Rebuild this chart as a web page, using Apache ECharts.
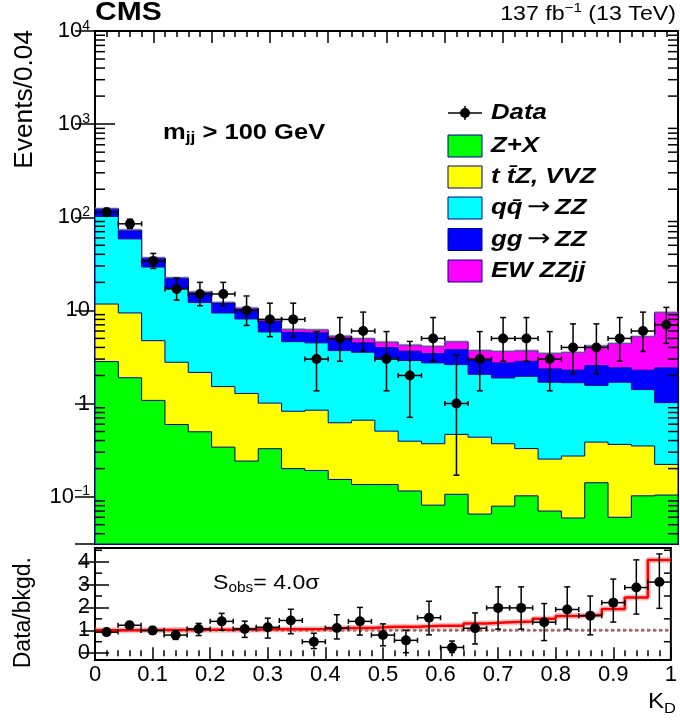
<!DOCTYPE html>
<html><head><meta charset="utf-8">
<script src="https://cdn.jsdelivr.net/npm/echarts@6/dist/echarts.min.js"></script>
<style>html,body{margin:0;padding:0;background:#fff}#c{width:680px;height:724px}</style>
</head><body><div id="c"></div>
<script>
// ---------------- data ----------------
const binCenters = [0.02,0.06,0.10,0.14,0.18,0.22,0.26,0.30,0.34,0.38,0.42,0.46,0.50,0.54,0.58,0.62,0.66,0.70,0.74,0.78,0.82,0.86,0.90,0.94,0.98];
const binWidth = 0.04;

const zx   = [2.82,1.89,1.08,0.595,0.497,0.340,0.241,0.327,0.200,0.191,0.153,0.135,0.135,0.115,0.081,0.106,0.065,0.079,0.102,0.070,0.059,0.141,0.060,0.102,0.104];
const ttz  = [8.88,7.49,3.65,2.18,1.66,1.18,1.04,0.683,0.626,0.657,0.468,0.527,0.370,0.279,0.289,0.360,0.370,0.291,0.226,0.183,0.214,0.244,0.304,0.248,0.118];
const qqzz = [90.3,49.2,24.5,14.6,10.0,7.86,6.81,4.86,3.79,3.63,3.08,2.89,2.57,2.50,2.36,2.15,1.62,1.51,1.63,1.44,1.40,1.18,1.33,1.06,0.80];
const ggzz = [21.0,14.0,7.1,4.7,3.3,2.5,2.2,1.7,1.19,1.25,1.15,0.92,0.91,0.75,0.71,1.17,0.84,0.85,0.88,0.66,0.61,0.99,0.72,0.87,1.39];
const ewzz = [0.4,0.4,0.35,0.3,0.3,0.3,0.3,0.35,0.45,0.45,0.45,0.5,0.58,0.6,0.67,0.82,0.81,0.9,0.85,1.1,1.25,1.6,2.0,2.95,7.1];

const dataCounts = [113,85,34,17,15,15,10,8,8,3,5,6,3,2,5,1,3,5,5,3,4,4,5,6,7];
const dataLow    = [102.4,75.8,28.2,12.9,11.2,11.2,6.89,5.23,5.23,1.37,2.84,3.62,1.37,0.71,2.84,0.17,1.37,2.84,2.84,1.37,2.09,2.09,2.84,3.62,4.42];
const dataHigh   = [124.7,95.3,40.9,22.2,20.0,20.0,14.27,11.95,11.95,5.92,8.38,9.58,5.92,4.64,8.38,3.30,5.92,8.38,8.38,5.92,7.16,7.16,8.38,9.58,10.77];

const ratioData = [0.92,1.22,0.99,0.79,1.06,1.39,1.06,1.13,1.43,0.50,1.10,1.39,0.79,0.56,1.55,0.25,1.09,1.98,1.98,1.35,1.91,1.64,2.21,2.87,3.11];
const ratioLow  = [0.83,1.10,0.83,0.60,0.77,1.00,0.69,0.66,0.85,0.20,0.62,0.79,0.32,0.02,0.80,0.03,0.40,1.05,1.05,0.55,1.05,0.80,1.36,1.71,1.96];
const ratioHigh = [1.01,1.35,1.16,0.98,1.30,1.74,1.40,1.53,1.92,0.87,1.68,2.00,1.28,1.00,2.27,0.53,1.76,2.90,2.90,2.17,2.90,2.50,3.24,4.08,4.34];
const ratioSig  = [1.00,1.00,1.01,1.01,1.02,1.02,1.03,1.04,1.05,1.06,1.10,1.10,1.15,1.15,1.20,1.20,1.30,1.35,1.38,1.50,1.62,1.68,1.93,2.43,4.07];

const ratioTicks = [0,1,2,3,4];
const ratioMinorTicks = [0.5,1.5,2.5,3.5,4.5];

const comps = [zx, ttz, qqzz, ggzz, ewzz];
const compColors = ['#00ff00','#ffff00','#00ffff','#0000ff','#ff00ff'];
const outline = '#000099';

const yMin = 0.031, yMax = 10000;
const rMin = -0.3, rMax = 4.6;
const FONT = 'Liberation Sans, Arial, Helvetica, sans-serif';
const SX = 1.16; // horizontal stretch of the reference's lettering

// log minor tick positions
const logMinor = [];
for (let k = -2; k <= 3; k++) for (let m = 2; m <= 9; m++) {
  const v = m * Math.pow(10, k);
  if (v > yMin && v < yMax) logMinor.push([0, v]);
}

// ---------------- render helpers ----------------
function cumAt(c, i) { let s = 0; for (let k = 0; k <= c; k++) s += comps[k][i]; return s; }

function renderStack(params, api) {
  const c = api.value(0);
  const pts = [];
  const b0 = api.coord([0, yMin]);
  pts.push([b0[0], b0[1]]);
  for (let i = 0; i < binCenters.length; i++) {
    const cum = cumAt(c, i);
    pts.push(api.coord([binCenters[i] - binWidth / 2, cum]), api.coord([binCenters[i] + binWidth / 2, cum]));
  }
  const b1 = api.coord([1, yMin]);
  pts.push([b1[0], b1[1]]);
  return { type: 'polygon', shape: { points: pts }, style: { fill: compColors[c], stroke: outline, lineWidth: 1 } };
}

// thin grey uncertainty hatch sitting on the stack total
function renderUnc(params, api) {
  const i = params.dataIndex;
  const tot = cumAt(4, i);
  const a = api.coord([binCenters[i] - binWidth / 2, tot * 1.035]);
  const b = api.coord([binCenters[i] + binWidth / 2, tot * 0.985]);
  return { type: 'rect', shape: { x: a[0], y: a[1], width: b[0] - a[0], height: b[1] - a[1] },
    style: { fill: 'rgba(150,150,150,0.55)' } };
}

function renderPoints(params, api) {
  const x = api.value(0), v = api.value(1), lo = api.value(2), hi = api.value(3);
  const pc = api.coord([x, v]);
  const pl = api.coord([x - binWidth / 2, v]);
  const pr = api.coord([x + binWidth / 2, v]);
  const plo = api.coord([x, lo]);
  const phi = api.coord([x, hi]);
  const st = { stroke: '#000', lineWidth: 1.5 };
  return {
    type: 'group',
    children: [
      { type: 'line', shape: { x1: pl[0], y1: pl[1], x2: pr[0], y2: pr[1] }, style: st },
      { type: 'line', shape: { x1: pl[0], y1: pl[1] - 2.5, x2: pl[0], y2: pl[1] + 2.5 }, style: st },
      { type: 'line', shape: { x1: pr[0], y1: pr[1] - 2.5, x2: pr[0], y2: pr[1] + 2.5 }, style: st },
      { type: 'line', shape: { x1: plo[0], y1: plo[1], x2: phi[0], y2: phi[1] }, style: st },
      { type: 'line', shape: { x1: plo[0] - 3, y1: plo[1], x2: plo[0] + 3, y2: plo[1] }, style: st },
      { type: 'line', shape: { x1: phi[0] - 3, y1: phi[1], x2: phi[0] + 3, y2: phi[1] }, style: st },
      { type: 'circle', shape: { cx: pc[0], cy: pc[1], r: 5 }, style: { fill: '#000' } }
    ]
  };
}

function makeTickRenderer(len) {
  return function (params, api) {
    const v = api.value(1);
    const p = api.coord([0, v]);
    const q = api.coord([1, v]);
    const st = { stroke: '#000', lineWidth: 1.5 };
    return {
      type: 'group',
      children: [
        { type: 'line', shape: { x1: p[0], y1: p[1], x2: p[0] + len, y2: p[1] }, style: st },
        { type: 'line', shape: { x1: q[0], y1: q[1], x2: q[0] - len, y2: q[1] }, style: st }
      ]
    };
  };
}

// ---------------- axes ----------------
const tickStyle = { color: '#000', width: 1.5 };
function xAx(grid, pos, major, minor, labels) {
  return {
    type: 'value', gridIndex: grid, position: pos, min: 0, max: 1, interval: 0.1,
    axisLine: { show: false },
    axisTick: { show: true, inside: true, length: major, lineStyle: tickStyle },
    minorTick: { show: true, splitNumber: 5, length: minor, lineStyle: tickStyle },
    splitLine: { show: false },
    axisLabel: labels ? { show: true, color: '#000', fontSize: 22, fontFamily: FONT, margin: 4 } : { show: false }
  };
}

const supRich = {
  b: { fontSize: 22, fontFamily: FONT, color: '#000', lineHeight: 24 },
  s: { fontSize: 14, fontFamily: FONT, color: '#000', lineHeight: 11, verticalAlign: 'top' }
};
function logLabel(v) {
  const l = Math.log10(v);
  const k = Math.round(l);
  if (Math.abs(l - k) > 0.01) return '';
  if (k === 0) return '{b|1}';
  if (k === 1) return '{b|10}';
  return '{b|10}{s|' + (k < 0 ? '\u2212' + (-k) : k) + '}';
}

const option = {
  animation: false,
  backgroundColor: '#fff',
  grid: [
    { left: 95, top: 31, width: 583, height: 513, show: true, borderColor: '#000', borderWidth: 2, backgroundColor: 'transparent' },
    { left: 95, top: 548, width: 583, height: 112, show: true, borderColor: '#000', borderWidth: 2, backgroundColor: 'transparent' }
  ],
  xAxis: [
    xAx(0, 'bottom', 12, 6, false),
    xAx(0, 'top', 12, 6, false),
    xAx(1, 'bottom', 6, 3, true),
    xAx(1, 'top', 6, 3, false)
  ],
  yAxis: [
    { type: 'log', logBase: 10, gridIndex: 0, position: 'left', min: yMin, max: yMax,
      axisLine: { show: false }, splitLine: { show: false },
      axisTick: { show: true, inside: true, length: 20, lineStyle: tickStyle },
      axisLabel: { show: true, margin: 5, formatter: logLabel, rich: supRich, showMinLabel: false } },
    { type: 'log', logBase: 10, gridIndex: 0, position: 'right', min: yMin, max: yMax,
      axisLine: { show: false }, splitLine: { show: false },
      axisTick: { show: true, inside: true, length: 20, lineStyle: tickStyle },
      axisLabel: { show: false } },
    { type: 'value', gridIndex: 1, position: 'left', min: rMin, max: rMax,
      axisLine: { show: false }, splitLine: { show: false },
      axisTick: { show: true, inside: true, length: 14, lineStyle: tickStyle, customValues: ratioTicks },
      axisLabel: { show: true, color: '#000', fontSize: 22, fontFamily: FONT, margin: 5, customValues: ratioTicks } },
    { type: 'value', gridIndex: 1, position: 'right', min: rMin, max: rMax,
      axisLine: { show: false }, splitLine: { show: false },
      axisTick: { show: true, inside: true, length: 14, lineStyle: tickStyle, customValues: ratioTicks },
      axisLabel: { show: false } }
  ],
  series: [
    { type: 'custom', name: 'stack', xAxisIndex: 0, yAxisIndex: 0, clip: false, z: 2,
      renderItem: renderStack, data: [[4, 1], [3, 1], [2, 1], [1, 1], [0, 1]] },
    { type: 'custom', name: 'uncertainty', xAxisIndex: 0, yAxisIndex: 0, clip: false, z: 3,
      renderItem: renderUnc, data: binCenters.map(c => [c, 1]), silent: true },
    { type: 'custom', name: 'logMinor', xAxisIndex: 0, yAxisIndex: 0, clip: false, z: 5,
      renderItem: makeTickRenderer(10), data: logMinor, silent: true },
    { type: 'custom', name: 'Data', xAxisIndex: 0, yAxisIndex: 0, clip: false, z: 6,
      renderItem: renderPoints,
      data: binCenters.map((c, i) => [c, dataCounts[i], dataLow[i], dataHigh[i]]) },
    { type: 'custom', name: 'ratioMinor', xAxisIndex: 2, yAxisIndex: 2, clip: false, z: 5,
      renderItem: makeTickRenderer(7), data: ratioMinorTicks.map(v => [0, v]), silent: true },
    { type: 'line', name: 'unityBand', xAxisIndex: 2, yAxisIndex: 2, z: 3, symbol: 'none',
      lineStyle: { color: '#888', width: 3, type: 'dotted' }, data: [[0, 1], [1, 1]] },
    { type: 'line', name: 'unity', xAxisIndex: 2, yAxisIndex: 2, z: 3, symbol: 'none',
      lineStyle: { color: '#e04040', width: 1, type: 'dashed' }, data: [[0, 1], [1, 1]] },
    { type: 'line', name: 'sigRatioBand', xAxisIndex: 2, yAxisIndex: 2, z: 3, symbol: 'none', step: 'end',
      lineStyle: { color: 'rgba(255,120,120,0.45)', width: 6 },
      data: binCenters.map((c, i) => [c - binWidth / 2, ratioSig[i]]).concat([[1, ratioSig[ratioSig.length - 1]]]) },
    { type: 'line', name: 'sigRatio', xAxisIndex: 2, yAxisIndex: 2, z: 4, symbol: 'none', step: 'end',
      lineStyle: { color: '#ff0000', width: 2.5 },
      data: binCenters.map((c, i) => [c - binWidth / 2, ratioSig[i]]).concat([[1, ratioSig[ratioSig.length - 1]]]) },
    { type: 'custom', name: 'ratioData', xAxisIndex: 2, yAxisIndex: 2, clip: false, z: 6,
      renderItem: renderPoints,
      data: binCenters.map((c, i) => [c, ratioData[i], ratioLow[i], ratioHigh[i]]) }
  ],
  graphic: []
};

// ---------------- text & legend ----------------
const G = option.graphic;
const bi = { fontFamily: FONT, fontWeight: 'bold', fontStyle: 'italic', fontSize: 22, color: '#000', lineHeight: 24 };

G.push({ type: 'text', x: 95, y: 13.5, scaleX: 1.2, style: { text: 'CMS', fontFamily: FONT, fontWeight: 'bold', fontSize: 25, fill: '#000', verticalAlign: 'middle', align: 'left' } });
G.push({ type: 'text', x: 676, y: 14, scaleX: SX, style: {
  text: '{n|137 fb}{s|\u22121}{n| (13 TeV)}', align: 'right', verticalAlign: 'middle',
  rich: { n: { fontFamily: FONT, fontSize: 20, color: '#000', lineHeight: 24 }, s: { fontFamily: FONT, fontSize: 13, color: '#000', lineHeight: 8, verticalAlign: 'top' } } } });
G.push({ type: 'text', x: 163, y: 133, scaleX: SX, style: {
  text: '{b|m}{s|jj}{b| > 100 GeV}', align: 'left', verticalAlign: 'middle',
  rich: { b: { fontFamily: FONT, fontWeight: 'bold', fontSize: 22, color: '#000', lineHeight: 24 }, s: { fontFamily: FONT, fontWeight: 'bold', fontSize: 15, color: '#000', lineHeight: 12, verticalAlign: 'bottom' } } } });
G.push({ type: 'text', x: 213, y: 583, scaleX: 1.1, style: {
  text: '{n|S}{s|obs}{n|= 4.0\u03c3}', align: 'left', verticalAlign: 'middle',
  rich: { n: { fontFamily: FONT, fontSize: 21, color: '#000', lineHeight: 24 }, s: { fontFamily: FONT, fontSize: 14, color: '#000', lineHeight: 14, verticalAlign: 'bottom' } } } });
G.push({ type: 'text', x: 676, y: 702, scaleX: 1.1, style: {
  text: '{n|K}{s|D}', align: 'right', verticalAlign: 'middle',
  rich: { n: { fontFamily: FONT, fontSize: 22, color: '#000', lineHeight: 28 }, s: { fontFamily: FONT, fontSize: 15, color: '#000', lineHeight: 9, verticalAlign: 'bottom' } } } });
G.push({ type: 'text', x: 25, y: 30, rotation: Math.PI / 2, scaleX: 1.05, style: { text: 'Events/0.04', fontFamily: FONT, fontSize: 25, fill: '#000', align: 'right', verticalAlign: 'middle' } });
G.push({ type: 'text', x: 24, y: 557, rotation: Math.PI / 2, style: { text: 'Data/bkgd.', fontFamily: FONT, fontSize: 23, fill: '#000', align: 'right', verticalAlign: 'middle' } });

// legend
const legX = 448, legW = 34, legH = 22, legTextX = 491;
const legRowsY = [113, 146, 177, 208, 239.5, 271];
G.push({ type: 'line', shape: { x1: legX, y1: legRowsY[0], x2: legX + legW, y2: legRowsY[0] }, style: { stroke: '#000', lineWidth: 1.5 } });
G.push({ type: 'line', shape: { x1: legX + legW / 2, y1: legRowsY[0] - 7, x2: legX + legW / 2, y2: legRowsY[0] + 7 }, style: { stroke: '#000', lineWidth: 1.5 } });
G.push({ type: 'circle', shape: { cx: legX + legW / 2, cy: legRowsY[0], r: 5 }, style: { fill: '#000' } });
const legTexts = [
  '{b|Data}',
  '{b|Z+X}',
  '{b|t t\u0304Z, VVZ}',
  '{b|qq\u0304}{g| }{a|\u2192}{g| }{b|ZZ}',
  '{b|gg}{g| }{a|\u2192}{g| }{b|ZZ}',
  '{b|EW ZZjj}'
];
const legColors = [null].concat(compColors);
legTexts.forEach((t, i) => {
  if (i > 0) {
    G.push({ type: 'rect', shape: { x: legX, y: legRowsY[i] - legH / 2, width: legW, height: legH },
      style: { fill: legColors[i], stroke: outline, lineWidth: 1 } });
  }
  G.push({ type: 'text', x: legTextX, y: legRowsY[i], scaleX: 1.17, style: {
    text: t, align: 'left', verticalAlign: 'middle',
    rich: { b: bi,
            g: { fontFamily: FONT, fontSize: 14, color: '#000', lineHeight: 24 },
            a: { fontFamily: 'DejaVu Sans, ' + FONT, fontSize: 24, color: '#000', lineHeight: 24 } } } });
});

const chart = echarts.init(document.getElementById('c'), null, { renderer: 'canvas' });
chart.setOption(option);
</script>
</body></html>
